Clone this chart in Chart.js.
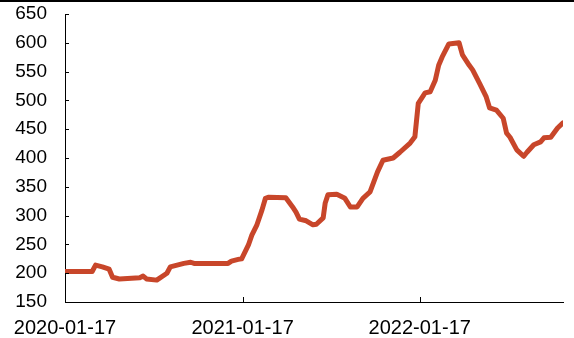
<!DOCTYPE html>
<html>
<head>
<meta charset="utf-8">
<script src="https://cdn.jsdelivr.net/npm/chart.js@4.4.1/dist/chart.umd.min.js"></script>
<style>
  html, body { margin: 0; padding: 0; background: #fff; }
  #wrap { position: relative; width: 574px; height: 338px; }
  #topline { position: absolute; left: 0; top: 0; width: 574px; height: 2px; background: #000; }
  canvas { position: absolute; left: 0; top: 0; }
</style>
</head>
<body>
<div id="wrap">
  <canvas id="c" width="574" height="338"></canvas>
  <div id="topline"></div>
</div>
<script>
// weeks since 2020-01-17
const weeks = [0, 8, 9, 11, 13, 14, 16, 22, 23, 24, 27, 30, 31, 33, 35, 37, 38, 48, 49, 51, 52,
  54, 55, 56.5, 58, 59, 60, 65, 67, 68, 69, 71, 73, 74, 76, 76.6, 77.4, 80, 82.4, 84, 86, 87.7, 89.8,
  92, 93.6, 96.6, 98.6, 101.6, 103, 104, 106, 107.5, 109, 110, 111, 113, 116, 117, 119, 120, 122,
  124, 125, 127, 129, 130, 131, 133, 135, 136, 138, 140, 141, 143, 145, 146.6];
const prices = [203, 203, 214, 211, 207, 193, 190, 192, 195, 190, 188, 200, 211, 214, 217, 219, 217, 217, 221, 224, 225,
  249, 266, 284, 310, 330, 332, 331, 315, 306, 294, 291, 284, 285, 296, 322, 336, 337, 330, 315, 315, 330, 341,
  376, 396, 400, 410, 426, 437, 495, 513, 515, 535, 561, 575, 598, 600, 579, 561, 553, 530,
  506, 487, 483, 469, 443, 436, 414, 403, 410, 423, 428, 435, 436, 452, 461];
const tickDays = [0, 366, 731];
const tickLabels = ["2020-01-17", "2021-01-17", "2022-01-17"];

const points = weeks.map((w, i) => ({ x: w * 7, y: prices[i] }));

const inwardTicks = {
  id: 'inwardTicks',
  afterDatasetsDraw(chart) {
    const ctx = chart.ctx;
    const { left, bottom } = chart.chartArea;
    const xs = chart.scales.x, ys = chart.scales.y;
    ctx.save();
    ctx.strokeStyle = '#000';
    ctx.lineWidth = 1;
    ctx.beginPath();
    ys.ticks.forEach(t => {
      const y = Math.round(ys.getPixelForValue(t.value)) + 0.5;
      ctx.moveTo(left, y); ctx.lineTo(left + 4, y);
    });
    xs.ticks.forEach(t => {
      if (t.value === 0) return;
      const x = Math.round(xs.getPixelForValue(t.value)) + 0.5;
      ctx.moveTo(x, bottom); ctx.lineTo(x, bottom - 5);
    });
    ctx.stroke();
    ctx.restore();
  }
};

Chart.defaults.font.family = '"Liberation Sans", Arial, sans-serif';
Chart.defaults.color = '#000';

new Chart(document.getElementById('c'), {
  type: 'line',
  data: {
    datasets: [{
      data: points,
      borderColor: '#c8462a',
      borderWidth: 5,
      pointRadius: 0,
      tension: 0,
      borderJoinStyle: 'round',
      borderCapStyle: 'round',
      fill: false
    }]
  },
  options: {
    responsive: false,
    animation: false,
    layout: { padding: { top: 14, right: 11, left: 0, bottom: 0 } },
    plugins: { legend: { display: false }, tooltip: { enabled: false } },
    scales: {
      x: {
        type: 'linear',
        min: 0,
        max: weeks[weeks.length - 1] * 7,
        afterBuildTicks: s => { s.ticks = tickDays.map(v => ({ value: v })); },
        afterFit: s => { s.height = 36; s.paddingLeft = 0; s.paddingRight = 0; },
        ticks: {
          autoSkip: false,
          maxRotation: 0,
          padding: 14,
          font: { size: 20 },
          callback: (v) => { const i = tickDays.indexOf(v); return i >= 0 ? tickLabels[i] : ''; }
        },
        grid: { display: false, drawTicks: false },
        border: { display: true, color: '#000', width: 1 }
      },
      y: {
        min: 150,
        max: 650,
        afterFit: s => { s.width = 65; s.paddingTop = 0; s.paddingBottom = 0; },
        ticks: { stepSize: 50, padding: 18, font: { size: 19 } },
        grid: { display: false, drawTicks: false },
        border: { display: true, color: '#000', width: 1 }
      }
    }
  },
  plugins: [inwardTicks]
});
</script>
</body>
</html>
